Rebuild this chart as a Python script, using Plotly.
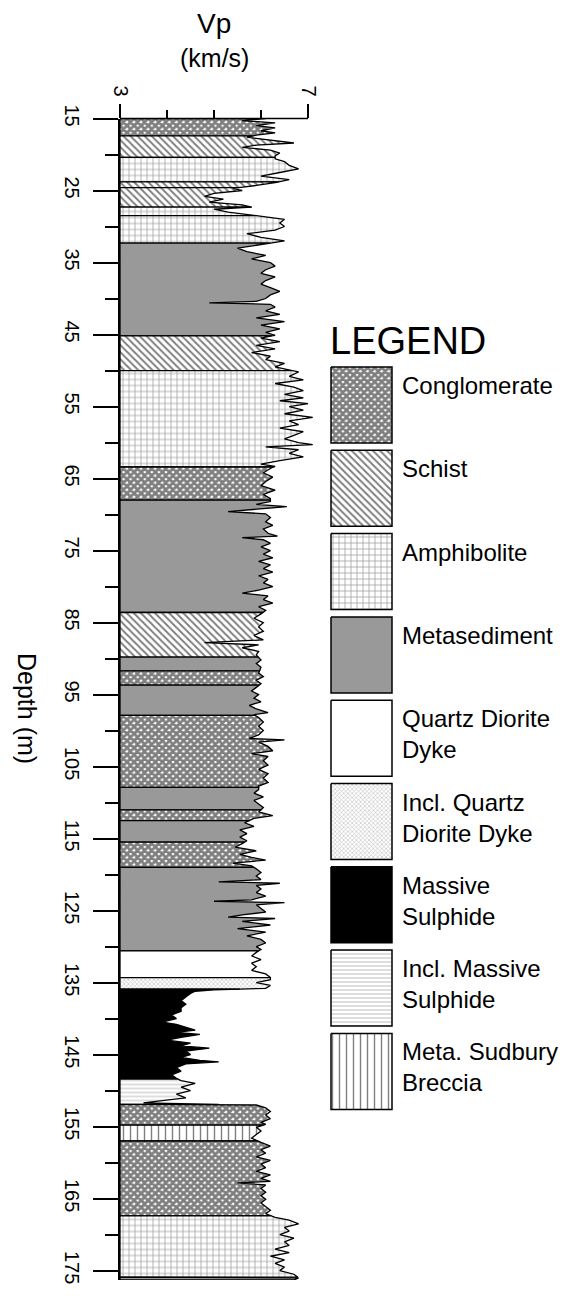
import numpy as np
import plotly.graph_objects as go

# ---------------- data ----------------
depth = [
    15.0, 15.3, 15.6, 16.0, 16.3, 16.7, 17.0, 17.3,
    17.6, 18.0, 18.4, 18.7, 19.0, 19.4, 19.8, 20.2,
    20.6, 21.0, 21.5, 22.0, 22.5, 23.0, 23.5,
    23.9, 24.3, 24.7, 25.0, 25.4, 25.8, 26.2, 26.6, 27.0, 27.3,
    27.6, 28.0, 28.5, 29.0, 29.5, 30.0, 30.5, 31.0, 31.5, 32.0, 32.3,
    32.6, 33.0, 33.5, 34.0, 34.5, 35.0, 35.5, 36.0, 36.5, 37.0,
    37.5, 38.0, 38.5, 39.0, 39.5, 40.0, 40.4, 40.6, 40.8, 41.2,
    41.7, 42.2, 42.7, 43.2, 43.7, 44.2, 44.7, 45.1,
    45.5, 46.0, 46.5, 47.0, 47.5, 48.0, 48.5, 49.0, 49.5, 49.9,
    50.2, 50.8, 51.3, 51.8, 52.3, 52.8, 53.3, 53.8, 54.2, 54.6,
    55.0, 55.5, 56.0, 56.5, 57.0, 57.5, 58.0, 58.5, 59.0, 59.5,
    60.0, 60.3, 60.6, 61.0, 61.5, 62.0, 62.5, 63.0, 63.3,
    63.6, 64.2, 64.8, 65.4, 66.0, 66.6, 67.2, 67.8,
    68.2, 68.6, 68.9, 69.3, 69.6, 69.9, 70.4, 71.0, 71.5, 72.0,
    72.6, 73.0, 73.2, 73.5, 74.0, 74.5, 75.0, 75.5, 76.0, 76.5,
    77.0, 77.5, 78.0, 78.5, 79.0, 79.5, 80.0, 80.5, 80.9, 81.3,
    81.8, 82.3, 82.8, 83.3,
    83.8, 84.4, 85.0, 85.6, 86.2, 86.8, 87.4, 87.8, 88.1, 88.5, 89.0, 89.5,
    90.2, 90.7, 91.2,
    92.0, 92.5, 93.0, 93.5,
    94.0, 94.5, 95.0, 95.5, 96.0, 96.5, 97.0, 97.5, 97.8,
    98.2, 98.8, 99.4, 100.0, 100.6, 101.1, 101.3, 101.6, 102.2, 102.8,
    103.2, 103.6, 104.2, 104.8, 105.4, 106.0, 106.6, 107.2, 107.7,
    108.2, 108.7, 109.2, 109.7, 110.2, 110.7,
    111.3, 111.8, 112.2,
    112.8, 113.3, 113.8, 114.3, 114.8, 115.3,
    115.7, 116.2, 116.7, 117.2, 117.6, 118.0, 118.4, 118.8,
    119.2, 119.7, 120.2, 120.7, 121.0, 121.2, 121.5, 122.0, 122.5, 123.0,
    123.5, 123.7, 123.9, 124.2, 124.7, 125.2, 125.6, 125.9, 126.1, 126.5,
    127.0, 127.5, 128.0, 128.5, 129.0, 129.5, 130.0, 130.4,
    130.8, 131.3, 131.8, 132.3, 132.8, 133.3, 133.8, 134.2,
    134.6, 135.0, 135.4, 135.8,
    136.0, 136.2, 136.5, 137.0, 137.5, 138.0, 138.5, 139.0, 139.5, 140.0,
    140.5, 140.8, 141.2, 141.6, 141.9, 142.2, 142.6, 143.0, 143.4, 143.8,
    144.1, 144.5, 145.0, 145.4, 145.8, 146.0, 146.3, 146.8, 147.3, 147.8,
    148.3,
    148.6, 149.0, 149.5, 150.0, 150.5, 151.0, 151.4, 151.7,
    152.0, 152.4, 152.9, 153.4, 153.9, 154.4, 154.7,
    155.1, 155.6, 156.1, 156.6,
    157.2, 157.7, 158.2, 158.7, 159.2, 159.7, 160.2, 160.7, 161.2, 161.7,
    162.2, 162.6, 162.8, 163.1, 163.6, 164.1, 164.6, 165.1, 165.6, 166.1,
    166.6, 167.1,
    167.6, 168.0, 168.5, 169.0, 169.5, 170.0, 170.5, 171.0, 171.5, 172.0,
    172.5, 173.0, 173.5, 174.0, 174.5, 175.0, 175.5,
    176.0, 176.3,
]

vp = [
    6.1, 5.6, 6.3, 5.9, 6.3, 6.0, 6.3, 5.9,
    5.7, 6.2, 6.7, 5.9, 5.6, 6.2, 6.4, 6.3,
    6.3, 6.5, 6.6, 6.8, 6.4, 6.0, 6.6,
    6.3, 5.9, 5.4, 5.6, 5.0, 4.8, 5.2, 4.9, 5.6, 5.8,
    5.0, 5.3, 5.9, 6.5, 6.4, 6.5, 6.3, 5.7, 6.0, 6.5, 6.2,
    5.9, 5.5, 5.7, 6.1, 5.8, 6.2, 6.3, 6.1, 6.0, 6.3,
    6.1, 6.0, 6.2, 6.4, 6.2, 6.1, 5.9, 4.9, 6.2, 6.3,
    6.1, 6.4, 5.9, 6.5, 6.0, 6.4, 6.1, 6.3,
    6.0, 6.4, 5.9, 6.3, 5.8, 6.2, 6.1, 6.5, 6.3, 6.6,
    6.8, 6.6, 6.9, 6.3, 6.7, 6.9, 6.5, 6.9, 6.4, 7.0,
    6.6, 6.9, 6.5, 7.1, 6.6, 6.8, 6.4, 6.9, 6.7, 6.5,
    6.8, 7.1, 6.1, 6.8, 6.6, 6.9, 6.4, 6.0, 6.3,
    6.2, 6.05, 6.25, 6.1, 6.0, 6.3, 6.05, 6.2,
    6.2, 5.9, 6.55, 5.9, 5.3, 6.1, 6.2, 6.1, 6.25, 6.05,
    6.15, 6.35, 5.6, 6.05, 6.2, 6.0, 6.2, 6.05, 6.25, 5.95,
    6.2, 6.05, 6.25, 5.95, 6.15, 6.05, 6.25, 5.95, 5.6, 6.15,
    6.05, 6.25, 5.95, 6.1,
    6.0, 5.85, 6.05, 5.95, 6.05, 5.85, 6.05, 4.8, 5.95, 5.6, 5.95, 5.9,
    6.0, 5.9, 6.0,
    5.95, 6.05, 5.9, 6.0,
    5.9, 5.8, 5.95, 5.85, 6.0, 5.75, 5.9, 6.15, 5.85,
    5.95, 6.05, 5.95, 6.05, 5.95, 5.75, 6.5, 5.95, 6.15, 6.25,
    5.8, 6.15, 6.05, 6.15, 5.95, 6.15, 6.05, 6.15, 5.95,
    5.95, 5.85, 6.05, 5.85, 5.95, 6.05,
    5.95, 6.25, 5.85,
    5.65, 5.85, 5.55, 5.7, 5.55, 5.7,
    5.6, 5.45, 5.9, 5.55, 5.8, 6.1, 5.4, 5.8,
    5.9, 6.0, 5.9, 6.0, 5.1, 6.4, 5.9, 6.0, 5.9, 6.1,
    5.8, 5.0, 6.5, 5.9, 6.0, 6.1, 5.6, 5.3, 6.3, 5.6,
    6.2, 5.5, 6.1, 5.7, 6.0, 6.1, 5.9, 6.0,
    5.9, 5.8, 6.0, 5.8, 5.9, 5.8, 6.1, 6.2,
    6.2, 5.9, 6.2, 6.1,
    5.0, 4.6, 4.5, 4.4, 4.3, 4.4, 4.3, 4.3, 4.1, 4.2,
    3.9, 4.2, 4.4, 4.6, 4.2, 4.7, 4.3, 4.0, 4.5, 4.3,
    4.9, 4.4, 4.5, 4.3, 4.7, 5.1, 4.4, 4.2, 4.3, 4.1,
    4.2,
    4.3, 4.6, 4.3, 4.5, 4.2, 4.4, 3.9, 3.5,
    5.9, 6.1, 6.2, 6.1, 6.2, 6.0, 6.1,
    5.9, 6.0, 5.9, 5.8,
    6.0, 6.2, 6.0, 6.1, 5.9, 6.2, 6.0, 6.1, 5.9, 6.2,
    6.0, 6.2, 5.5, 6.1, 6.0, 6.1, 6.0, 6.1, 6.0, 6.1,
    6.2, 6.1,
    6.3, 6.6, 6.8, 6.5, 6.6, 6.4, 6.7, 6.5, 6.6, 6.3,
    6.6, 6.2, 6.5, 6.3, 6.5, 6.4, 6.7,
    6.8, 6.7,
]

layer_top = [15.0, 17.4, 20.4, 23.8, 24.6, 27.3, 28.5, 32.3, 45.2, 50.0,
             63.4, 68.0, 83.6, 89.8, 91.7, 93.7, 97.9, 107.9, 111.0, 112.5,
             115.5, 119.0, 130.6, 134.3, 135.9, 148.4, 151.9, 154.8, 157.0, 167.4,
             175.9]
layer_base = [17.4, 20.4, 23.8, 24.6, 27.3, 28.5, 32.3, 45.2, 50.0, 63.4,
              68.0, 83.6, 89.8, 91.7, 93.7, 97.9, 107.9, 111.0, 112.5, 115.5,
              119.0, 130.6, 134.3, 135.9, 148.4, 151.9, 154.8, 157.0, 167.4, 175.9,
              176.3]
layer_lith = ["Conglomerate", "Schist", "Amphibolite", "Schist", "Schist",
              "Amphibolite", "Amphibolite", "Metasediment", "Schist", "Amphibolite",
              "Conglomerate", "Metasediment", "Schist", "Metasediment", "Conglomerate",
              "Metasediment", "Conglomerate", "Metasediment", "Conglomerate", "Metasediment",
              "Conglomerate", "Metasediment", "Quartz Diorite Dyke", "Incl. Quartz Diorite Dyke",
              "Massive Sulphide", "Incl. Massive Sulphide", "Conglomerate",
              "Meta. Sudbury Breccia", "Conglomerate", "Amphibolite", "Metasediment"]

legend_lith = ["Conglomerate", "Schist", "Amphibolite", "Metasediment",
               "Quartz Diorite Dyke", "Incl. Quartz Diorite Dyke", "Massive Sulphide",
               "Incl. Massive Sulphide", "Meta. Sudbury Breccia"]
legend_text = ["Conglomerate", "Schist", "Amphibolite", "Metasediment",
               "Quartz Diorite<br>Dyke", "Incl. Quartz<br>Diorite Dyke", "Massive<br>Sulphide",
               "Incl. Massive<br>Sulphide", "Meta. Sudbury<br>Breccia"]

depth_tickvals = [15, 25, 35, 45, 55, 65, 75, 85, 95, 105, 115, 125, 135, 145, 155, 165, 175]
depth_minor_tickvals = [20, 30, 40, 50, 60, 70, 80, 90, 100, 110, 120, 130, 140, 150, 160, 170]
vp_tickvals = [3, 7]
vp_minor_tickvals = [4, 5, 6]

# ---------------- styles ----------------
FONT = "Liberation Sans, Arial, Helvetica, sans-serif"
STYLE = {
    "Conglomerate": dict(fill="white", pattern=dict(shape="x", fgcolor="black", bgcolor="white", size=5, solidity=0.8)),
    "Schist": dict(fill="white", pattern=dict(shape="\\", fgcolor="black", bgcolor="white", size=5, solidity=0.4)),
    "Amphibolite": dict(fill="white", pattern=dict(shape="+", fgcolor="#444444", bgcolor="white", size=6, solidity=0.25)),
    "Metasediment": dict(fill="#999999", pattern=dict(shape="")),
    "Quartz Diorite Dyke": dict(fill="white", pattern=dict(shape="")),
    "Incl. Quartz Diorite Dyke": dict(fill="white", pattern=dict(shape="x", fgcolor="#777777", bgcolor="white", size=3, solidity=0.35)),
    "Massive Sulphide": dict(fill="black", pattern=dict(shape="")),
    "Incl. Massive Sulphide": dict(fill="white", pattern=dict(shape="-", fgcolor="#777777", bgcolor="white", size=4, solidity=0.25)),
    "Meta. Sudbury Breccia": dict(fill="white", pattern=dict(shape="|", fgcolor="black", bgcolor="white", size=7, solidity=0.2)),
}

W, H = 575, 1299
PX_LEFT, PX_TOP, PX_BOTTOM = 120, 118.5, 1280
PX_PER_VP = 47.0
VP_RANGE = [3, 7.4]
px_right = PX_LEFT + (VP_RANGE[1] - VP_RANGE[0]) * PX_PER_VP

fig = go.Figure()

d = np.array(depth)
v = np.array(vp)
for top, base, lith in zip(layer_top, layer_base, layer_lith):
    mask = (d > top) & (d < base)
    dd = np.concatenate([[top], d[mask], [base]])
    vv = np.concatenate([[np.interp(top, d, v)], v[mask], [np.interp(base, d, v)]])
    xs = [3.0] + list(vv) + [3.0, 3.0]
    ys = [top] + list(dd) + [base, top]
    st = STYLE[lith]
    fig.add_trace(go.Scatter(
        x=xs, y=ys, mode="lines", fill="toself", fillcolor=st["fill"],
        fillpattern=st["pattern"], line=dict(color="black", width=1.3),
        hoverinfo="skip", showlegend=False, xaxis="x", yaxis="y"))

# legend boxes (pixel coordinates on an overlay axis pair)
box_x0, box_x1 = 331, 392
box_top0, box_step, box_h = 367, 83.3, 76
for i, (lith, txt) in enumerate(zip(legend_lith, legend_text)):
    y0 = box_top0 + i * box_step
    y1 = y0 + box_h
    st = STYLE[lith]
    fig.add_trace(go.Scatter(
        x=[box_x0, box_x1, box_x1, box_x0, box_x0], y=[y0, y0, y1, y1, y0],
        mode="lines", fill="toself", fillcolor=st["fill"], fillpattern=st["pattern"],
        line=dict(color="black", width=1.5), hoverinfo="skip", showlegend=False,
        xaxis="x2", yaxis="y2"))
    fig.add_annotation(x=400, y=y0 + 3, xref="x2", yref="y2", text=txt, showarrow=False,
                       xanchor="left", yanchor="top", align="left",
                       font=dict(family=FONT, size=24, color="black"))

fig.add_annotation(x=328, y=341, xref="x2", yref="y2", text="LEGEND", showarrow=False,
                   xanchor="left", yanchor="middle", font=dict(family=FONT, size=38, color="black"))
fig.add_annotation(x=214, y=23, xref="x2", yref="y2", text="Vp", showarrow=False,
                   xanchor="center", yanchor="middle", font=dict(family=FONT, size=28, color="black"))
fig.add_annotation(x=214, y=58, xref="x2", yref="y2", text="(km/s)", showarrow=False,
                   xanchor="center", yanchor="middle", font=dict(family=FONT, size=25, color="black"))
fig.add_annotation(x=27, y=708, xref="x2", yref="y2", text="Depth (m)", showarrow=False,
                   textangle=90, xanchor="center", yanchor="middle",
                   font=dict(family=FONT, size=25, color="black"))

# top axis line (from Vp=3 to Vp=7 only)
fig.add_shape(type="line", xref="x2", yref="y2", x0=PX_LEFT, x1=PX_LEFT + 4 * PX_PER_VP,
              y0=PX_TOP, y1=PX_TOP, line=dict(color="black", width=1.5))

fig.update_layout(
    width=W, height=H, autosize=False,
    margin=dict(l=0, r=0, t=0, b=0, pad=0),
    paper_bgcolor="white", plot_bgcolor="rgba(0,0,0,0)",
    showlegend=False,
    font=dict(family=FONT, color="black"),
    xaxis=dict(
        domain=[PX_LEFT / W, px_right / W], range=VP_RANGE, side="top", anchor="y",
        tickmode="array", tickvals=vp_tickvals, ticktext=[str(t) for t in vp_tickvals],
        tickangle=90, ticks="outside", ticklen=14, tickwidth=1.5, tickcolor="black",
        tickfont=dict(family=FONT, size=20, color="black"),
        showline=False, showgrid=False, zeroline=False, automargin=False, fixedrange=True,
        minor=dict(tickmode="array", tickvals=vp_minor_tickvals, ticks="outside", ticklen=8,
                   tickwidth=1.5, tickcolor="black", showgrid=False),
    ),
    yaxis=dict(
        domain=[1 - PX_BOTTOM / H, 1 - PX_TOP / H], range=[176.3, 15], anchor="x",
        tickmode="array", tickvals=depth_tickvals, ticktext=[str(t) for t in depth_tickvals],
        tickangle=90, ticks="outside", ticklen=25, tickwidth=1.5, tickcolor="black",
        ticklabelstandoff=4,
        tickfont=dict(family=FONT, size=20, color="black"),
        showline=True, linecolor="black", linewidth=1.5,
        showgrid=False, zeroline=False, automargin=False, fixedrange=True,
        minor=dict(tickmode="array", tickvals=depth_minor_tickvals, ticks="outside", ticklen=13,
                   tickwidth=1.5, tickcolor="black", showgrid=False),
    ),
    xaxis2=dict(domain=[0, 1], range=[0, W], anchor="y2", visible=False, fixedrange=True),
    yaxis2=dict(domain=[0, 1], range=[H, 0], anchor="x2", visible=False, fixedrange=True),
)

fig.write_html("out.html")
